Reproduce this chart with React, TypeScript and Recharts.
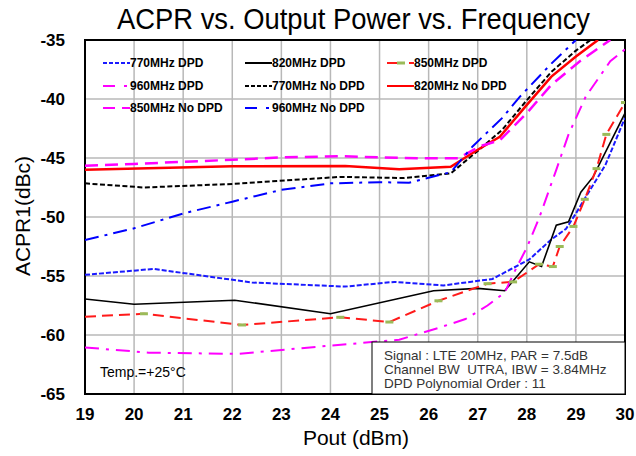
import React from 'react';
import { LineChart, Line, XAxis, YAxis, CartesianGrid, ReferenceArea, Legend } from 'recharts';

type Pt = { x: number; y: number };
const P = (x: number, y: number): Pt => ({ x, y });

const xTicks = [19, 20, 21, 22, 23, 24, 25, 26, 27, 28, 29, 30];
const yTicks = [-65, -60, -55, -50, -45, -40, -35];

const dpd770: Pt[] = [P(19, -54.9), P(20.4, -54.4), P(22.4, -55.55), P(24.3, -55.9), P(25.3, -55.5), P(26.3, -55.8), P(27.3, -55.25), P(28.05, -53.6), P(28.5, -51.9), P(28.8, -51.0), P(29.0, -49.7), P(29.2, -48.3), P(29.6, -45.6), P(30, -41.6)];
const dpd820: Pt[] = [P(19, -56.95), P(20, -57.4), P(22.05, -57.05), P(24, -58.2), P(26.1, -56.25), P(27, -56.05), P(27.55, -56.25), P(28.05, -53.8), P(28.3, -54.2), P(28.6, -50.7), P(28.85, -50.4), P(29.1, -47.9), P(29.35, -46.6), P(30, -41.2)];
const dpd850: Pt[] = [P(19, -58.45), P(20.2, -58.2), P(22.2, -59.15), P(24.2, -58.5), P(25.2, -58.9), P(26.2, -57.1), P(27.2, -55.65), P(27.72, -55.5), P(28.25, -54.0), P(28.53, -54.2), P(28.67, -52.5), P(28.95, -50.8), P(29.18, -48.5), P(29.42, -45.9), P(29.62, -43.0), P(30, -40.3)];
const dpd960: Pt[] = [P(19, -61.05), P(20.3, -61.5), P(22.1, -61.6), P(24.0, -60.9), P(25.4, -60.4), P(26.2, -59.4), P(26.75, -58.65), P(27.2, -57.5), P(27.55, -56.4), P(27.8, -54.2), P(28.0, -52.6), P(28.25, -50.1), P(28.6, -46.0), P(28.85, -43.0), P(29.2, -39.8), P(29.7, -36.8), P(30, -35.8)];
const nodpd770: Pt[] = [P(19, -47.15), P(20.2, -47.5), P(22, -47.2), P(24.2, -46.6), P(25.5, -46.7), P(26.45, -46.3), P(27.0, -44.4), P(27.5, -42.6), P(28.0, -40.1), P(28.5, -37.7), P(29.0, -35.9), P(29.3, -35.0)];
const nodpd820: Pt[] = [P(19, -46.0), P(22, -45.7), P(24.3, -45.68), P(25.4, -45.95), P(26.45, -45.75), P(27.0, -44.3), P(27.45, -43.2), P(28.0, -40.5), P(28.5, -38.1), P(29.0, -36.4), P(29.45, -35.0)];
const nodpd850: Pt[] = [P(19, -45.65), P(20, -45.5), P(22, -45.15), P(23, -44.95), P(24.2, -44.85), P(25, -44.95), P(26, -45.03), P(26.6, -45.03), P(27.05, -44.0), P(27.45, -43.5), P(28, -41.2), P(28.5, -38.8), P(29.08, -36.8), P(29.7, -35.0)];
const nodpd960: Pt[] = [P(19, -51.95), P(20, -50.96), P(21, -49.7), P(22, -48.7), P(23, -47.7), P(24, -47.15), P(25, -47.05), P(25.6, -47.1), P(26.45, -46.2), P(26.9, -44.0), P(27.5, -41.6), P(27.86, -39.8), P(28.5, -37.0), P(29.0, -35.0)];

const seriesNames = ['770MHz DPD', '820MHz DPD', '850MHz DPD', '960MHz DPD', '770MHz No DPD', '820MHz No DPD', '850MHz No DPD', '960MHz No DPD'];
const noteLines = ['Signal : LTE 20MHz, PAR = 7.5dB', 'Channel BW  UTRA, IBW = 3.84MHz', 'DPD Polynomial Order : 11'];

type S = { name: string; data: Pt[]; color: string; width: number; dash?: string; legendDash?: string; marker?: boolean };
const SERIES: S[] = [
  { name: seriesNames[0], data: dpd770, color: '#1a1aff', width: 2, dash: '5 2', legendDash: '4 2' },
  { name: seriesNames[1], data: dpd820, color: '#000000', width: 1.6 },
  { name: seriesNames[2], data: dpd850, color: '#ff1a1a', width: 2, dash: '11 6', marker: true },
  { name: seriesNames[3], data: dpd960, color: '#ff00ff', width: 2, dash: '14 7 3 7', legendDash: '12 9 3 9' },
  { name: seriesNames[4], data: nodpd770, color: '#000000', width: 2, dash: '5 2.5', legendDash: '4 2' },
  { name: seriesNames[5], data: nodpd820, color: '#ff0000', width: 2.5 },
  { name: seriesNames[6], data: nodpd850, color: '#ff00ff', width: 2.5, dash: '13 7', legendDash: '12 7' },
  { name: seriesNames[7], data: nodpd960, color: '#0000ff', width: 2, dash: '14 6 3 6', legendDash: '12 9 3 9' },
];

const FONT = "'Liberation Sans', Arial, sans-serif";

const GreenMark = (props: any) => {
  const { cx, cy, index } = props;
  if (index === 0 || cx == null || cy == null) return <g key={`m${index}`} />;
  return <rect key={`m${index}`} x={cx - 4} y={cy - 1.5} width={8} height={3} fill="#9bbb59" />;
};

const renderLegend = () => (
  <div style={{ position: 'relative', width: 430, height: 70 }}>
    {SERIES.map((s, i) => {
      const col = i % 3;
      const row = Math.floor(i / 3);
      return (
        <div key={s.name} style={{ position: 'absolute', left: col * 142, top: row * 22.5, height: 22, display: 'flex', alignItems: 'center', whiteSpace: 'nowrap' }}>
          <svg width={27} height={10} style={{ display: 'block' }}>
            {s.marker ? (
              <g>
                <line x1={0} y1={5} x2={10} y2={5} stroke={s.color} strokeWidth={2} />
                <line x1={10} y1={5} x2={18} y2={5} stroke="#9bbb59" strokeWidth={3} />
                <line x1={22} y1={5} x2={27} y2={5} stroke={s.color} strokeWidth={2} />
              </g>
            ) : (
              <line x1={0} y1={5} x2={27} y2={5} stroke={s.color} strokeWidth={2} strokeDasharray={s.legendDash || s.dash} />
            )}
          </svg>
          <span style={{ fontFamily: FONT, fontWeight: 'bold', fontSize: 12, color: '#000' }}>{s.name}</span>
        </div>
      );
    })}
  </div>
);

export default function App() {
  return (
    <div style={{ position: 'absolute', left: 0, top: 0, width: 636, height: 456, background: '#fff' }}>
      <LineChart width={636} height={456} margin={{ top: 40, right: 11, bottom: 32, left: 25 }}>
        <CartesianGrid stroke="#b8b8b8" strokeWidth={1.5} />
        <XAxis
          type="number"
          dataKey="x"
          domain={[19, 30]}
          ticks={xTicks}
          allowDataOverflow
          height={30}
          tickLine={false}
          axisLine={false}
          tickSize={0}
          tickMargin={14}
          tick={{ fontSize: 17, fontWeight: 'bold', fill: '#000', fontFamily: FONT }}
        />
        <YAxis
          type="number"
          domain={[-65, -35]}
          ticks={yTicks}
          allowDataOverflow
          width={60}
          tickLine={false}
          axisLine={false}
          tickSize={0}
          tickMargin={20}
          tick={{ fontSize: 17, fontWeight: 'bold', fill: '#000', fontFamily: FONT }}
        />
        <Legend layout="vertical" align="center" verticalAlign="middle" content={renderLegend} wrapperStyle={{ left: 103, top: 52, width: 430, height: 70 }} />
        {SERIES.map((s) => (
          <Line
            key={s.name}
            name={s.name}
            data={s.data}
            dataKey="y"
            type="linear"
            stroke={s.color}
            strokeWidth={s.width}
            strokeDasharray={s.dash}
            dot={s.marker ? GreenMark : false}
            activeDot={false}
            isAnimationActive={false}
          />
        ))}
        <ReferenceArea x1={19} x2={30} y1={-65} y2={-35} fill="#fff" fillOpacity={0} stroke="#000" strokeWidth={2} ifOverflow="visible" />
      </LineChart>
      <svg width={636} height={456} style={{ position: 'absolute', left: 0, top: 0, pointerEvents: 'none' }}>
        <text x={353.5} y={29} textAnchor="middle" fontFamily={FONT} fontSize={30} textLength={473} lengthAdjust="spacingAndGlyphs" fill="#000">
          ACPR vs. Output Power vs. Frequency
        </text>
        <text x={30} y={216} transform="rotate(-90 30 216)" textAnchor="middle" fontFamily={FONT} fontSize={21} fill="#000">
          ACPR1(dBc)
        </text>
        <text x={356} y={445} textAnchor="middle" fontFamily={FONT} fontSize={21} fill="#000">
          Pout (dBm)
        </text>
        <text x={100} y={377} fontFamily={FONT} fontSize={14} fill="#000">
          Temp.=+25°C
        </text>
        <rect x={372} y={342} width={253} height={52} fill="#fff" stroke="#000" strokeWidth={1} />
        {noteLines.map((t, i) => (
          <text key={t} x={384} y={360 + i * 14} fontFamily={FONT} fontSize={13.5} fill="#333" style={{ whiteSpace: 'pre' }}>
            {t}
          </text>
        ))}
      </svg>
    </div>
  );
}
